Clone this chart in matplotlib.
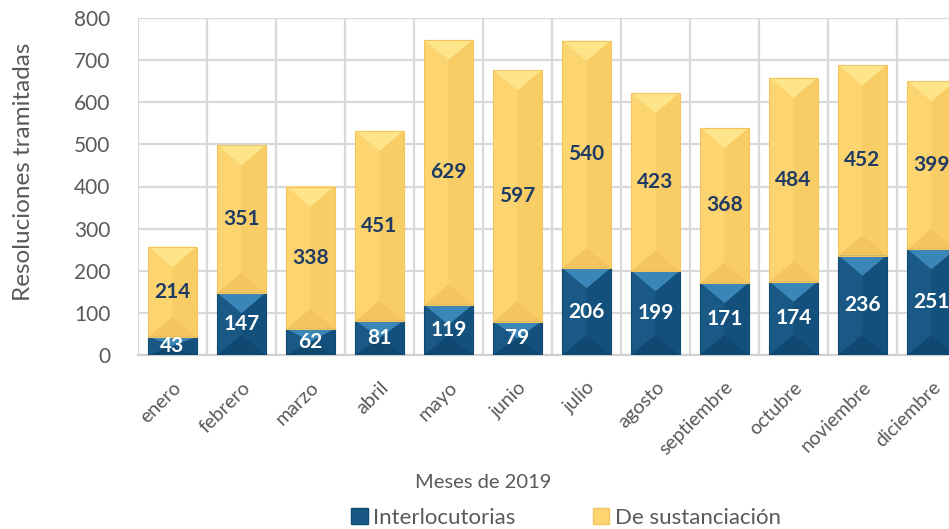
import numpy as np
import matplotlib.pyplot as plt
from matplotlib.patches import Polygon, Patch

plt.rcParams['font.family'] = ['Lato', 'DejaVu Sans']

meses = ['enero', 'febrero', 'marzo', 'abril', 'mayo', 'junio', 'julio',
         'agosto', 'septiembre', 'octubre', 'noviembre', 'diciembre']
interlocutorias = [43, 147, 62, 81, 119, 79, 206, 199, 171, 174, 236, 251]
sustanciacion = [214, 351, 338, 451, 629, 597, 540, 423, 368, 484, 452, 399]

# bevel shades: top, left, right, bottom
blue_shades = ['#3a86b8', '#1a5986', '#14507c', '#0f4870']
gold_shades = ['#fee58a', '#fcd470', '#f9cd65', '#f4c55e']

W, H = 949, 529
fig = plt.figure(figsize=(W / 100, H / 100), dpi=100)
# axes runs past the right edge like the original (last bar is cut off)
ax = fig.add_axes([138 / W, 1 - 355 / H, 828 / W, 337 / H])

x = np.arange(len(meses))
width = 0.7
b1 = ax.bar(x, interlocutorias, width, color=blue_shades[1], zorder=3)
b2 = ax.bar(x, sustanciacion, width, bottom=interlocutorias, color=gold_shades[1], zorder=3)

ax.set_xlim(-0.5, len(meses) - 0.5)
ax.set_ylim(0, 800)
ax.set_yticks(range(0, 801, 100))
ax.set_xticks(x)
ax.set_xticks(np.arange(-0.5, len(meses), 1), minor=True)
ax.set_xticklabels(meses, rotation=45, ha='right', va='top', rotation_mode='anchor')
ax.tick_params(length=0, which='both', labelsize=14, colors='#595959')
ax.tick_params(axis='y', labelsize=15, pad=20)
ax.tick_params(axis='x', pad=17)
ax.grid(axis='y', color='#d9d9d9', linewidth=1.6, zorder=0)
ax.grid(axis='x', which='minor', color='#d9d9d9', linewidth=1.6, zorder=0)
ax.grid(axis='x', which='major', visible=False)
for s in ['top', 'right', 'left']:
    ax.spines[s].set_visible(False)
ax.spines['bottom'].set_color('#d0d0d0')
ax.spines['bottom'].set_linewidth(1.6)
ax.set_axisbelow(True)

# bevel faces on every bar segment
fig.canvas.draw()
px_x = ax.transData.transform((1, 0))[0] - ax.transData.transform((0, 0))[0]
px_y = ax.transData.transform((0, 1))[1] - ax.transData.transform((0, 0))[1]
for bars, shades in [(b1, blue_shades), (b2, gold_shades)]:
    for p in bars:
        x0, y0 = p.get_x(), p.get_y()
        x1, y1 = x0 + p.get_width(), y0 + p.get_height()
        xc = (x0 + x1) / 2
        d = 0.42 * p.get_width() * px_x / px_y
        d = min(d, p.get_height() / 2)
        faces = [
            [(x0, y1), (x1, y1), (xc, y1 - d)],
            [(x0, y0), (xc, y0 + d), (xc, y1 - d), (x0, y1)],
            [(x1, y0), (xc, y0 + d), (xc, y1 - d), (x1, y1)],
            [(x0, y0), (x1, y0), (xc, y0 + d)],
        ]
        for f, c in zip(faces, shades):
            ax.add_patch(Polygon(f, closed=True, facecolor=c, edgecolor='none', zorder=4))
        ax.add_patch(Polygon([(x0, y0), (x1, y0), (x1, y1), (x0, y1)], closed=True,
                             facecolor='none', edgecolor=shades[3], linewidth=0.8, zorder=5))

for i in range(len(meses)):
    ax.text(x[i], interlocutorias[i] / 2, str(interlocutorias[i]), ha='center', va='center',
            color='white', fontsize=15, fontweight='bold', zorder=6)
    ax.text(x[i], interlocutorias[i] + sustanciacion[i] / 2, str(sustanciacion[i]),
            ha='center', va='center', color='#1f3b64', fontsize=15, fontweight='bold', zorder=6)

fig.text(24 / W, 1 - 172 / H, 'Resoluciones tramitadas', rotation=90, ha='center', va='center',
         fontsize=17.5, color='#595959')
fig.text(483 / W, 1 - 482 / H, 'Meses de 2019', ha='center', va='center',
         fontsize=14.5, color='#595959')

handles = [Patch(facecolor=blue_shades[1], edgecolor=blue_shades[3]),
           Patch(facecolor=gold_shades[1], edgecolor=gold_shades[3])]
leg = fig.legend(handles, ['Interlocutorias', 'De sustanciación'], loc='center',
                 bbox_to_anchor=(566 / W, 1 - 518 / H), ncol=2, frameon=False,
                 fontsize=16, handlelength=0.75, handleheight=0.75, handletextpad=0.25,
                 columnspacing=3.45)
for t in leg.get_texts():
    t.set_color('#595959')

fig.savefig('out.png', dpi=100)
